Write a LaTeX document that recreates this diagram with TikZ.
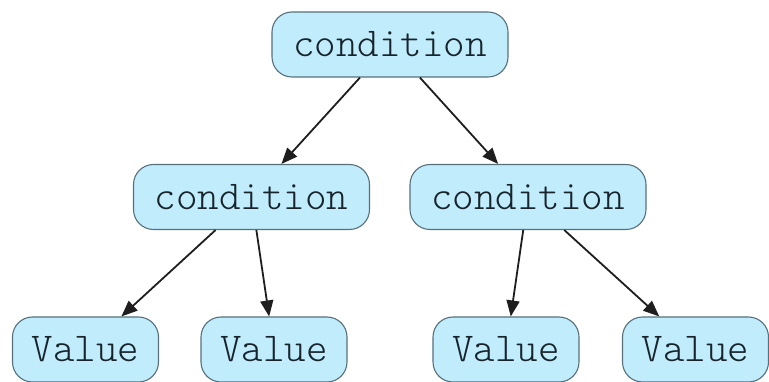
\documentclass[tikz,border=0pt]{standalone}
\usepackage{fontspec}
\newfontfamily\lightmono{Latin Modern Mono Light}
\usetikzlibrary{arrows.meta}
\definecolor{boxfill}{RGB}{192,236,252}
\definecolor{boxline}{RGB}{88,112,124}
\definecolor{txt}{RGB}{24,36,44}
\definecolor{edge}{RGB}{30,30,30}
\tikzset{
  box/.style={draw=boxline, fill=boxfill, line width=1.1pt, rounded corners=20pt,
    minimum height=65pt, inner sep=0pt, text=txt,
    font=\fontsize{41}{46}\selectfont\lightmono},
  condbox/.style={box, minimum width=236pt},
  valbox/.style={box, minimum width=146pt},
  edgeline/.style={draw=edge, line width=1.8pt, -{Triangle[length=16pt,width=13pt]}}
}
\begin{document}
\begin{tikzpicture}[x=1pt,y=-1pt]
\useasboundingbox (0,0) rectangle (769,382);
\node[condbox] (top) at (390,44.5) {condition};
\node[condbox] (l) at (251.5,197) {condition};
\node[condbox] (r) at (528,197) {condition};
\node[valbox] (v1) at (85.5,349.5) {Value};
\node[valbox] (v2) at (274,349.5) {Value};
\node[valbox] (v3) at (506,349.5) {Value};
\node[valbox] (v4) at (695.5,349.5) {Value};
\draw[edgeline] (top) -- (l);
\draw[edgeline] (top) -- (r);
\draw[edgeline] (l) -- (v1);
\draw[edgeline] (l) -- (v2);
\draw[edgeline] (r) -- (v3);
\draw[edgeline] (r) -- (v4);
\end{tikzpicture}
\end{document}
